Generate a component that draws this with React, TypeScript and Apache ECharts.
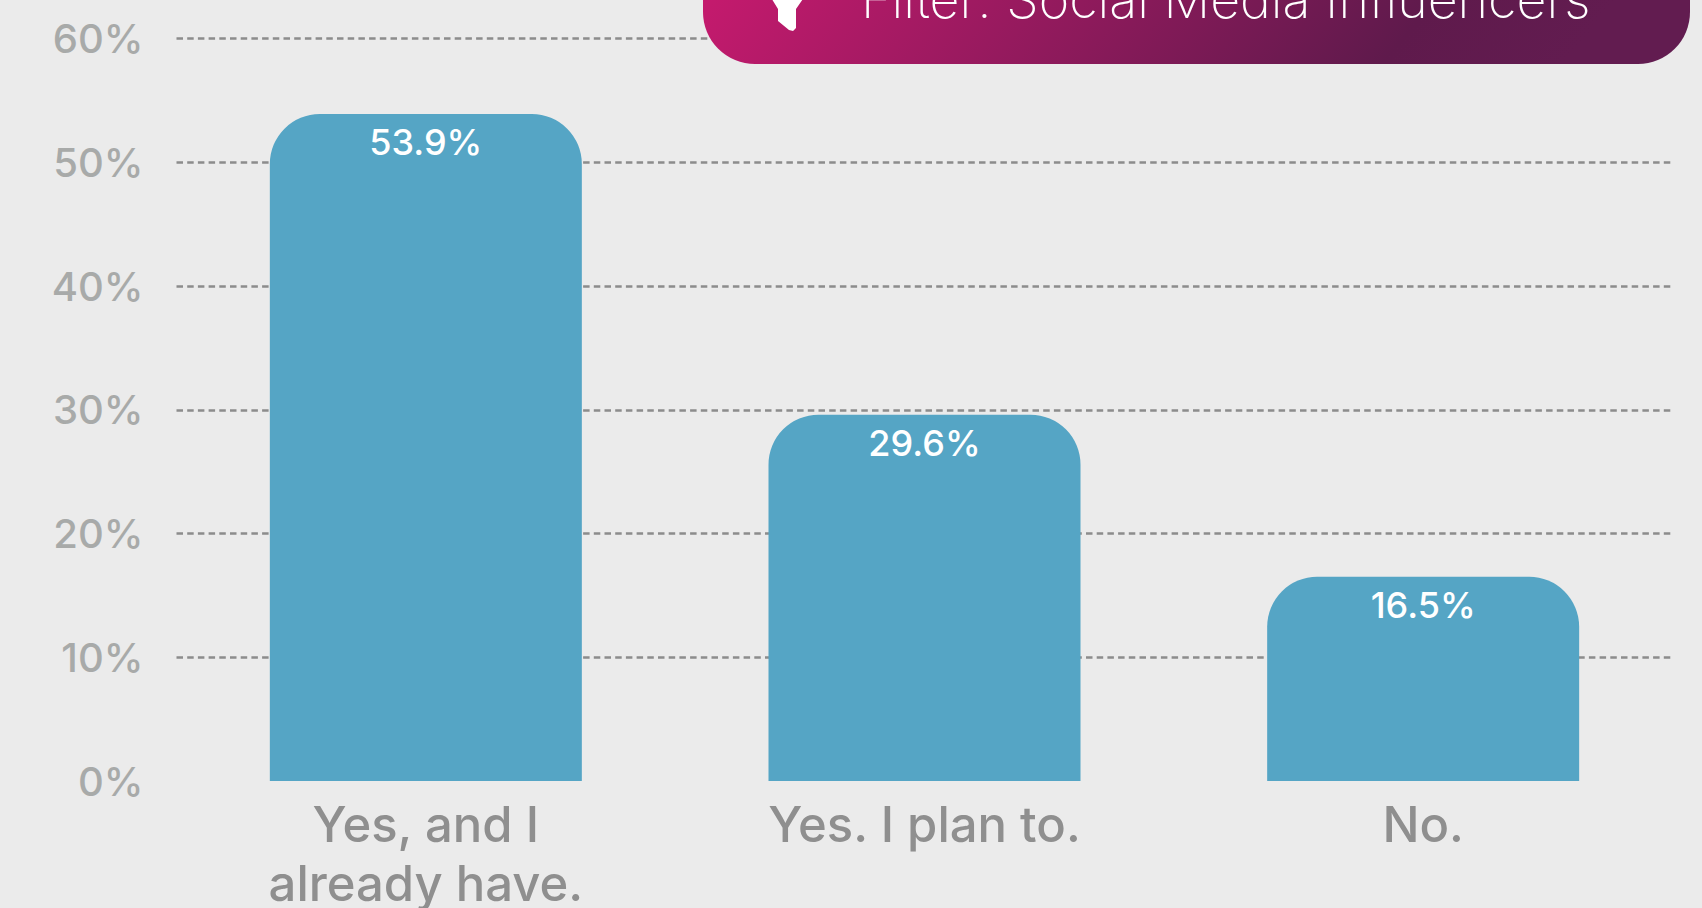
import React, { useEffect, useRef } from "react";
import * as echarts from "echarts";

const categories = ["Yes, and I\nalready have.", "Yes. I plan to.", "No."];
const shares = [53.9, 29.6, 16.5];
const filterText = "Filter: Social Media Influencers";
const uiFont = "Inter, 'Open Sans', sans-serif";

export default function App() {
  const ref = useRef<HTMLDivElement>(null);
  useEffect(() => {
    document.body.style.margin = "0";
    const chart = echarts.init(ref.current!, undefined, { renderer: "svg" });
    chart.setOption({
      animation: false,
      backgroundColor: "#ebebeb",
      grid: { left: 176.5, right: 29.5, top: 38.5, bottom: 127, outerBoundsMode: "none" },
      xAxis: {
        type: "category",
        data: categories,
        axisLine: { show: false },
        axisTick: { show: false },
        axisLabel: {
          color: "#8f8f8f",
          fontFamily: uiFont,
          fontSize: 49,
          fontWeight: 500,
          lineHeight: 59,
          margin: 14,
          interval: 0,
        },
      },
      yAxis: {
        type: "value",
        min: 0,
        max: 60,
        interval: 10,
        axisLine: { show: false },
        axisTick: { show: false },
        axisLabel: {
          color: "#a8aaa9",
          fontFamily: uiFont,
          fontSize: 40,
          fontWeight: 500,
          margin: 33,
          formatter: "{value}%",
        },
        splitLine: {
          showMinLine: false,
          lineStyle: { color: "#8c8c8c", width: 2.5, type: [6.5, 4.2] },
        },
      },
      series: [
        {
          type: "bar",
          data: shares,
          barWidth: 312,
          itemStyle: { color: "#55a5c5", borderRadius: [50, 50, 0, 0] },
          label: {
            show: true,
            position: "insideTop",
            distance: 10,
            color: "#ffffff",
            fontFamily: uiFont,
            fontSize: 36,
            fontWeight: 500,
            formatter: "{c}%",
          },
        },
      ],
      graphic: [
        {
          type: "rect",
          z: 10,
          shape: { x: 703, y: -120, width: 987, height: 184, r: 52 },
          style: {
            fill: new echarts.graphic.LinearGradient(0, 0, 1, 0.15, [
              { offset: 0, color: "#d21a72" },
              { offset: 0.82, color: "#5f1a4c" },
              { offset: 1, color: "#621c50" },
            ]),
          },
        },
        {
          type: "polygon",
          z: 11,
          shape: {
            points: [
              [770, -4],
              [778, 9],
              [778, 21],
              [789, 30],
              [793, 31],
              [796, 28],
              [796, 9],
              [805, -4],
            ],
          },
          style: { fill: "#ffffff" },
        },
        {
          type: "text",
          z: 11,
          x: 861,
          y: 25,
          style: {
            text: filterText,
            fill: "#ffffff",
            font: `200 52px ${uiFont}`,
            verticalAlign: "bottom",
          },
        },
      ],
    });
    return () => chart.dispose();
  }, []);
  return <div ref={ref} style={{ width: 1702, height: 908 }} />;
}
